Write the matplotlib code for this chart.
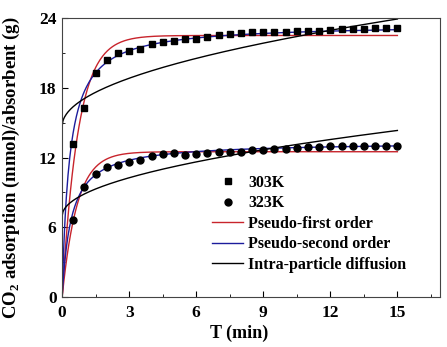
import numpy as np
import matplotlib
matplotlib.use('Agg')
import matplotlib.pyplot as plt

plt.rcParams['font.family'] = ['Liberation Serif', 'DejaVu Serif']
plt.rcParams['font.weight'] = 'bold'
plt.rcParams['mathtext.fontset'] = 'custom'
plt.rcParams['mathtext.rm'] = 'Liberation Serif:bold'
plt.rcParams['mathtext.bf'] = 'Liberation Serif:bold'

# measured uptake, t = 0.5 ... 15 min
T_DATA = [0.5, 1.0, 1.5, 2.0, 2.5, 3.0, 3.5, 4.0, 4.5, 5.0, 5.5, 6.0, 6.5, 7.0, 7.5,
          8.0, 8.5, 9.0, 9.5, 10.0, 10.5, 11.0, 11.5, 12.0, 12.5, 13.0, 13.5, 14.0, 14.5, 15.0]
Q_303K = [13.2, 16.3, 19.3, 20.4, 21.0, 21.2, 21.3, 21.8, 21.9, 22.05, 22.2, 22.2, 22.35, 22.5, 22.6,
          22.7, 22.77, 22.82, 22.82, 22.82, 22.88, 22.88, 22.91, 23.0, 23.03, 23.05, 23.1, 23.12, 23.14, 23.14]
Q_323K = [6.6, 9.5, 10.6, 11.15, 11.35, 11.65, 11.75, 12.1, 12.3, 12.4, 12.2, 12.3, 12.4, 12.45, 12.5,
          12.5, 12.62, 12.62, 12.71, 12.77, 12.83, 12.88, 12.94, 12.97, 12.97, 13.0, 13.03, 13.03, 13.03, 13.03]

# fitted kinetic parameters
PFO_QE = [22.5, 12.5]      # pseudo-first order qe
PFO_K = [1.4, 1.5]         # pseudo-first order k1
PSO_QE = [23.5, 13.35]     # pseudo-second order qe
PSO_A = [3.06, 2.48]       # pseudo-second order qe*k2
IPD_K = [2.38, 1.90]       # intra-particle diffusion kid
IPD_C = [14.7, 6.97]       # intra-particle diffusion intercept

t = np.linspace(0, 15, 400)

fig = plt.figure(figsize=(4.47, 3.47), dpi=100)
ax = fig.add_axes([0.139, 0.144, 0.845, 0.804])

for i in range(2):
    pfo = PFO_QE[i] * (1 - np.exp(-PFO_K[i] * t))
    pso = PSO_QE[i] * PSO_A[i] * t / (1 + PSO_A[i] * t)
    ipd = IPD_K[i] * np.sqrt(t) + IPD_C[i]
    ax.plot(t, pfo, color='#c8242c', lw=1.0,
            label='Pseudo-first order' if i == 0 else None, zorder=2)
    ax.plot(t, pso, color='#1c1c9c', lw=1.0,
            label='Pseudo-second order' if i == 0 else None, zorder=2)
    ax.plot(t, ipd, color='black', lw=1.0,
            label='Intra-particle diffusion' if i == 0 else None, zorder=2)

ax.plot(T_DATA, Q_303K, 's', color='black', ms=5, ls='none', label='303K', zorder=3)
ax.plot(T_DATA, Q_323K, 'o', color='black', ms=5, ls='none', label='323K', zorder=3)

handles, labels = ax.get_legend_handles_labels()
order = [3, 4, 0, 1, 2]
ax.legend([handles[j] for j in order], [labels[j] for j in order],
          loc='center left', bbox_to_anchor=(0.359, 0.262), frameon=False,
          fontsize=11.5, handlelength=1.95, handletextpad=0.3, labelspacing=0.28)

ax.set_xlim(0, 16.9)
ax.set_ylim(0, 24)
ax.set_xticks([0, 3, 6, 9, 12, 15])
ax.set_xticks(np.arange(1.5, 16.6, 3), minor=True)
ax.set_yticks([0, 6, 12, 18, 24])
ax.set_yticks([3, 9, 15, 21], minor=True)
ax.tick_params(direction='in', which='both', labelsize=12.5)
ax.tick_params(axis='x', pad=6)
ax.tick_params(axis='y', pad=4)
ax.tick_params(which='major', length=4)
ax.tick_params(which='minor', length=2.5)
for s in ax.spines.values():
    s.set_color('#444444')

ax.set_xlabel('T (min)', fontsize=13, fontweight='bold')
ax.xaxis.set_label_coords(0.468, -0.1)
ax.set_ylabel(r'CO$_2$ adsorption (mmol)/absorbent (g)', fontsize=13.5,
              fontweight='bold')
ax.yaxis.set_label_coords(-0.106, 0.462)

fig.savefig('out.png', dpi=100)
